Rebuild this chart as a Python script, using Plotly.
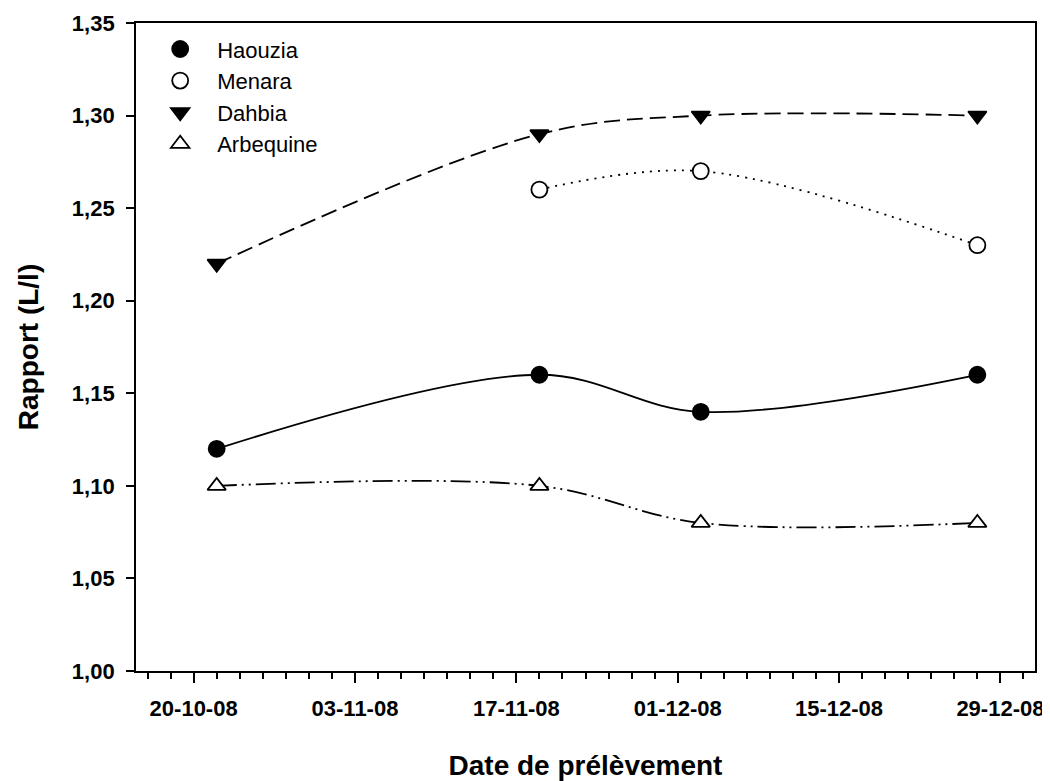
import plotly.graph_objects as go

# ---- data ----
dates = ["2008-10-22", "2008-11-19", "2008-12-03", "2008-12-27"]
haouzia = [1.12, 1.16, 1.14, 1.16]
menara = [None, 1.26, 1.27, 1.23]
dahbia = [1.22, 1.29, 1.30, 1.30]
arbequine = [1.10, 1.10, 1.08, 1.08]

x_tickvals = ["2008-10-20", "2008-11-03", "2008-11-17", "2008-12-01", "2008-12-15", "2008-12-29"]
x_ticktext = ["20-10-08", "03-11-08", "17-11-08", "01-12-08", "15-12-08", "29-12-08"]
y_tickvals = [1.00, 1.05, 1.10, 1.15, 1.20, 1.25, 1.30, 1.35]

series = [
    ("Haouzia", haouzia, "circle", "black", "solid", 16),
    ("Menara", menara, "circle", "white", "2px,6px", 16),
    ("Dahbia", dahbia, "triangle-down", "black", "16px,7px", 16),
    ("Arbequine", arbequine, "triangle-up", "white", "20px,5px,2px,5px,2px,5px", 16),
]

fig = go.Figure()
for name, vals, sym, fill, dash, size in series:
    fig.add_trace(go.Scatter(
        x=dates, y=vals, mode="lines+markers", name=name, showlegend=False,
        line=dict(color="black", width=1.8, dash=dash, shape="spline", smoothing=1.0),
        marker=dict(symbol=sym, size=size, color=fill, line=dict(color="black", width=1.8)),
    ))
# legend entries (markers only)
for name, vals, sym, fill, dash, size in series:
    fig.add_trace(go.Scatter(
        x=[None], y=[None], mode="markers", name=name, showlegend=True,
        marker=dict(symbol=sym, size=size, color=fill, line=dict(color="black", width=1.8)),
    ))

tick_font = dict(family="Liberation Sans, Arial, sans-serif", size=22, color="black", weight="bold")
title_font = dict(family="Liberation Sans, Arial, sans-serif", size=28, color="black", weight="bold")

fig.update_layout(
    width=1042, height=773,
    margin=dict(l=128, r=15, t=15, b=110, autoexpand=False),
    paper_bgcolor="white", plot_bgcolor="white",
    separators=",.",
    showlegend=True,
    legend=dict(
        x=0.008, y=0.992, xanchor="left", yanchor="top",
        font=dict(family="Liberation Sans, Arial, sans-serif", size=22, color="black"),
        bgcolor="rgba(0,0,0,0)", borderwidth=0, tracegroupgap=0, itemwidth=64,
    ),
    xaxis=dict(
        type="date", range=["2008-10-15", "2009-01-01"],
        tickvals=x_tickvals, ticktext=x_ticktext,
        ticks="outside", ticklen=10, tickwidth=1.8, tickcolor="black",
        minor=dict(ticks="outside", ticklen=6, tickwidth=1.8, tickcolor="black",
                   dtick=2 * 86400000, tick0="2008-10-20", showgrid=False),
        showline=True, linecolor="black", linewidth=1.8, mirror=True,
        showgrid=False, zeroline=False, automargin=False,
        tickfont=tick_font, ticklabelstandoff=7,
        title=dict(text="Date de prélèvement", font=title_font, standoff=37),
    ),
    yaxis=dict(
        range=[1.00, 1.35], tickvals=y_tickvals, tickformat=".2f",
        ticks="outside", ticklen=8, tickwidth=1.8, tickcolor="black",
        showline=True, linecolor="black", linewidth=1.8, mirror=True,
        showgrid=False, zeroline=False, automargin=False,
        tickfont=tick_font, ticklabelstandoff=7,
        title=dict(text="Rapport (L/l)", font=title_font, standoff=25),
    ),
)

fig.write_html("out.html")
